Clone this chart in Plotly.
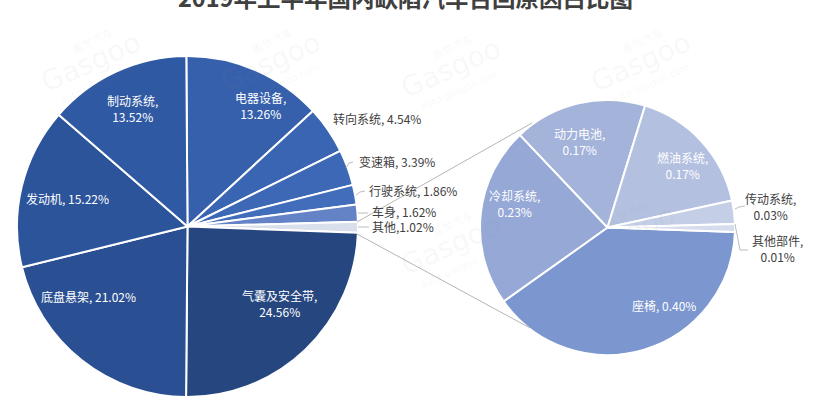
import plotly.graph_objects as go

W, H = 820, 410

title_text = "2019年上半年国内缺陷汽车召回原因占比图"

# main pie, clockwise from the top
main_names = ["电器设备", "转向系统", "变速箱", "行驶系统", "车身", "其他", "气囊及安全带", "底盘悬架", "发动机", "制动系统"]
main_values = [13.26, 4.54, 3.39, 1.86, 1.62, 1.02, 24.56, 21.02, 15.22, 13.52]
main_colors = ["#3660ab", "#3a65b2", "#3c68b6", "#416dba", "#6482c6", "#dadfec",
               "#26467f", "#2a4f92", "#2c549b", "#2f59a2"]
main_seps = [",<br>", ", ", ", ", ", ", ", ", ",", ",<br>", ", ", ", ", ",<br>"]

# breakdown of "其他", clockwise from just past 3 o'clock
detail_names = ["座椅", "冷却系统", "动力电池", "燃油系统", "传动系统", "其他部件"]
detail_values = [0.40, 0.23, 0.17, 0.17, 0.03, 0.01]
detail_colors = ["#7c96cf", "#95a8d6", "#a3b3da", "#b3c0e0", "#c4cee7", "#d5dcee"]
detail_seps = [", ", ",<br>", ",<br>", ",<br>", ",<br>", ",<br>"]


def px_x(x):
    return x / W


def px_y(y):
    return 1 - y / H


fig = go.Figure()

fig.add_trace(go.Pie(
    labels=main_names, values=main_values, sort=False, direction="clockwise", rotation=-0.4,
    marker=dict(colors=main_colors, line=dict(color="white", width=2)),
    textinfo="none", hoverinfo="skip", showlegend=False,
    domain=dict(x=[px_x(17), px_x(358)], y=[px_y(397), px_y(56)]),
))
fig.add_trace(go.Pie(
    labels=detail_names, values=detail_values, sort=False, direction="clockwise", rotation=92,
    marker=dict(colors=detail_colors, line=dict(color="white", width=2)),
    textinfo="none", hoverinfo="skip", showlegend=False,
    domain=dict(x=[px_x(480), px_x(735)], y=[px_y(355), px_y(100)]),
))

# data label placement, in picture pixels
main_label_pos = [(260, 105), (377, 118), (397, 161), (413, 190), (404, 211),
                  (403, 226), (279, 303), (88, 296), (67, 198), (132, 108)]
main_label_white = [True, False, False, False, False, False, True, True, True, True]
detail_label_pos = [(664, 305), (514, 203), (579, 141), (682, 165), (770, 206), (777, 248)]
detail_label_white = [True, True, True, True, False, False]

annotations = []


def add_labels(names, values, seps, positions, white):
    for name, value, sep, (x, y), is_white in zip(names, values, seps, positions, white):
        annotations.append(dict(
            x=px_x(x), y=px_y(y), xref="paper", yref="paper", showarrow=False,
            xanchor="center", yanchor="middle",
            text=f"{name}{sep}{value:.2f}%", align="center",
            font=dict(family="Noto Sans CJK SC", size=12, color="white" if is_white else "#404040"),
        ))


# faint watermark first, so the labels sit on top of it
watermark_pos = [(90, 62), (270, 62), (450, 68), (640, 62), (450, 245), (625, 235)]
mark_color = "rgba(150,150,150,0.08)"
for x, y in watermark_pos:
    annotations.append(dict(
        x=px_x(x), y=px_y(y), xref="paper", yref="paper", showarrow=False, textangle=-24,
        xanchor="center", yanchor="middle",
        text="Gasgoo", font=dict(family="DejaVu Sans", size=28, color=mark_color),
    ))
    annotations.append(dict(
        x=px_x(x + 10), y=px_y(y + 22), xref="paper", yref="paper", showarrow=False, textangle=-24,
        xanchor="center", yanchor="middle",
        text="auto.gasgoo.com", font=dict(family="DejaVu Sans", size=10, color=mark_color),
    ))
    annotations.append(dict(
        x=px_x(x + 2), y=px_y(y - 22), xref="paper", yref="paper", showarrow=False, textangle=-24,
        xanchor="center", yanchor="middle",
        text="盖世汽车", font=dict(family="Noto Sans CJK SC", size=11, color=mark_color),
    ))

add_labels(main_names, main_values, main_seps, main_label_pos, main_label_white)
add_labels(detail_names, detail_values, detail_seps, detail_label_pos, detail_label_white)

# title runs off the top edge of the picture
annotations.append(dict(
    x=px_x(405), y=px_y(-3), xref="paper", yref="paper", showarrow=False, text=f"<b>{title_text}</b>",
    xanchor="center", yanchor="middle",
    font=dict(family="Noto Sans CJK SC", size=23.5, color="#404040"),
))


def line_path(points):
    return "M " + " L ".join(f"{px_x(x)} {px_y(y)}" for x, y in points)


# series lines joining the two pies, then the label leaders
connectors = [[(357, 222), (532, 123)], [(357, 234), (530, 328)]]
leaders = [
    [(346, 168), (349, 163), (353, 162)],
    [(356, 195), (360, 192), (365, 191)],
    [(358, 213), (368, 213)],
    [(358, 227), (369, 227)],
    [(735, 209), (739, 207), (745, 206)],
    [(735, 224), (740, 250), (748, 250)],
]
shapes = []
for pts in connectors:
    shapes.append(dict(type="path", path=line_path(pts), xref="paper", yref="paper",
                       line=dict(color="#b5b5b5", width=1)))
for pts in leaders:
    shapes.append(dict(type="path", path=line_path(pts), xref="paper", yref="paper",
                       line=dict(color="#bdbdbd", width=1)))

fig.update_layout(
    width=W, height=H, margin=dict(l=0, r=0, t=0, b=0),
    paper_bgcolor="white", plot_bgcolor="white",
    annotations=annotations, shapes=shapes,
)

# page body has a default 8px margin, drop it so pixels line up
fig.write_html("out.html", config={"displayModeBar": False}, post_script="document.body.style.margin='0';")
